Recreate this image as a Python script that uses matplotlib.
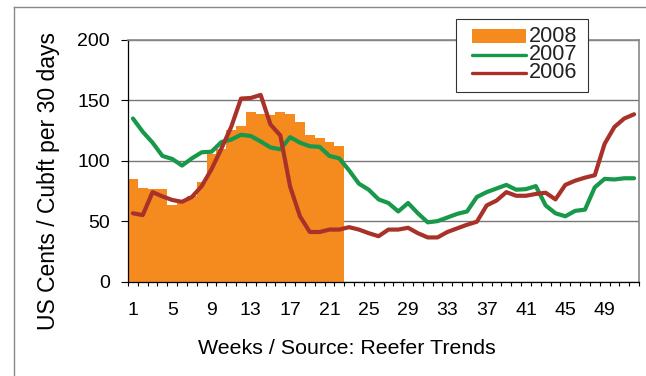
import numpy as np
import matplotlib
matplotlib.use("Agg")
import matplotlib.pyplot as plt
from matplotlib.patches import Rectangle
from matplotlib.lines import Line2D

plt.rcParams['font.family'] = ['Liberation Sans', 'DejaVu Sans']

# weekly reefer rates, US cents per cubic foot per 30 days
weeks = np.arange(1, 53)
rate_2008 = [85, 77.5, 76.5, 76.5, 63.5, 66, 71, 82.5, 105.5, 110, 125.5,
             129, 140.5, 139, 137.5, 140.5, 139, 132, 121, 118.5, 115.5, 112.5]
rate_2007 = [135, 124, 115, 104, 101.5, 96, 102, 107, 107.5, 115.5, 117.5,
             121.5, 120.5, 116, 111, 109.5, 119.5, 115, 112, 111.5, 104, 102,
             92, 81, 76, 68, 65, 58, 65, 56.5, 49, 50, 53, 56, 58, 70, 74, 77,
             80, 76, 76.5, 79, 63, 56.5, 54, 58.5, 59.5, 78, 85, 84.5, 85.5, 85.5]
rate_2006 = [56.5, 55, 74, 70.5, 67.5, 66, 70, 79, 93, 110, 128, 151.5, 152,
             154.5, 130, 121, 78.5, 54, 41, 41, 43, 43, 45, 43, 40, 37.5, 43,
             43, 44.5, 40, 36.5, 36.5, 41, 44, 47, 49.5, 63, 67, 74, 71, 71,
             72.5, 73.5, 68, 80, 83.5, 86, 88, 114, 128, 135, 138.5]
week_labels = [1, 5, 9, 13, 17, 21, 25, 29, 33, 37, 41, 45, 49]
years = ['2008', '2007', '2006']

c08 = '#F58A1F'
c07 = '#17984A'
c06 = '#A8322A'

W, H = 646, 376


def fx(px):
    return px / W


def fy(py):
    return 1 - py / H


fig = plt.figure(figsize=(W / 100, H / 100), dpi=100)
ax = fig.add_axes([fx(128), fy(281.5), 511 / W, 241.5 / H])

ax.bar(weeks[:len(rate_2008)], rate_2008, width=1.0, color=c08, zorder=2)
ax.plot(weeks, rate_2007, color=c07, lw=3, zorder=3, solid_capstyle='round')
ax.plot(weeks, rate_2006, color=c06, lw=3, zorder=4, solid_capstyle='round')

ax.set_xlim(0.5, 52.5)
ax.set_ylim(0, 200)
ax.set_yticks([0, 50, 100, 150, 200])
ax.set_xticks(week_labels)
ax.set_xticks(np.arange(0.5, 53, 1), minor=True)
ax.tick_params(axis='x', which='major', length=0, pad=15, labelsize=14)
ax.tick_params(axis='x', which='minor', length=3, width=0.8, direction='out')
ax.tick_params(axis='y', length=5, width=0.8, pad=8, labelsize=14)

ax.grid(axis='y', color='#777777', lw=1, zorder=1)
ax.set_axisbelow(True)
for side in ['top', 'right']:
    ax.spines[side].set_color('#888888')
    ax.spines[side].set_linewidth(1.2)
for side in ['left', 'bottom']:
    ax.spines[side].set_color('black')
    ax.spines[side].set_linewidth(0.9)

ax.set_xlabel('Weeks / Source: Reefer Trends', fontsize=15.4, va='center')
ax.xaxis.set_label_coords((347 - 128) / 511, (281.5 - 349) / 241.5)
ax.set_ylabel('US Cents / Cubft per 30 days', fontsize=16.5, va='center', ha='center')
ax.yaxis.set_label_coords((49 - 128) / 511, (281.5 - 181.5) / 241.5)

# legend box drawn by hand, in figure pixels
fig.add_artist(Rectangle((fx(456), fy(92)), 132 / W, 73 / H, transform=fig.transFigure,
                         facecolor='white', edgecolor='#333333', lw=0.8, zorder=5))
fig.add_artist(Rectangle((fx(472), fy(42.7)), 54 / W, 13.4 / H, transform=fig.transFigure,
                         facecolor=c08, edgecolor='none', zorder=6))
fig.add_artist(Line2D([fx(472), fx(526)], [fy(55), fy(55)], color=c07, lw=2.4,
                      solid_capstyle='round', transform=fig.transFigure, zorder=6))
fig.add_artist(Line2D([fx(472), fx(526)], [fy(72.7), fy(72.7)], color=c06, lw=2.4,
                      solid_capstyle='round', transform=fig.transFigure, zorder=6))
for label, base in zip(years, [41.7, 60, 78.3]):
    fig.text(fx(529), fy(base), label, fontsize=15.6, va='baseline', ha='left',
             color='#222222', zorder=7)

# outer frame around the chart
fig.add_artist(Line2D([fx(14), fx(14)], [0, fy(7)], color='#888888', lw=1,
                      transform=fig.transFigure))
fig.add_artist(Line2D([fx(14), 1], [fy(7), fy(7)], color='#888888', lw=1,
                      transform=fig.transFigure))

fig.savefig('out.png', dpi=100)
